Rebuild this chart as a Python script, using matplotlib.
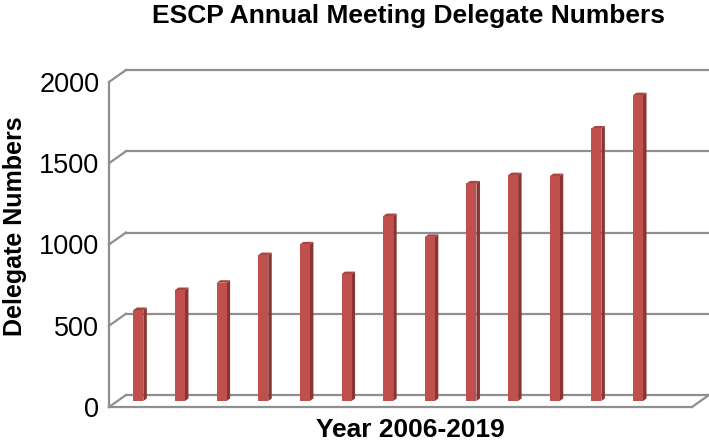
import numpy as np
import matplotlib
matplotlib.use("Agg")
import matplotlib.pyplot as plt

plt.rcParams['font.family'] = ['Liberation Sans', 'DejaVu Sans']

# data (one empty slot at the end)
years = list(range(2006, 2020))
delegates = [560, 683, 728, 898, 964, 781, 1138, 1010, 1339, 1390, 1384, 1677, 1882]
yticks = [0, 500, 1000, 1500, 2000]

grid_c = '#8f8f8f'
front_c = '#c0504d'
side_c = '#8a3533'
top_c = '#a94442'

W, H = 709, 446
fig = plt.figure(figsize=(W / 100, H / 100), dpi=100)
ax = fig.add_axes([109 / W, (H - 407) / H, 583 / W, 325 / H])
nslot = len(years)
ax.set_xlim(-0.5, nslot - 0.5)
ax.set_ylim(0, 2000)
for s in ax.spines.values():
    s.set_visible(False)
ax.set_xticks([])
ax.set_yticks(yticks)
ax.set_yticklabels([str(v) for v in yticks], fontsize=19.5)
ax.tick_params(axis='y', length=0, pad=7)

# depth of the "3d" box in data units (17px right, 12px up)
dx = 17 / (583 / nslot)
dy = 12 / (325 / 2000)
x0, x1 = -0.5, nslot - 0.5

# back wall gridlines + left wall diagonals
for v in yticks:
    ax.plot([x0 + dx, x1 + dx], [v + dy, v + dy], color=grid_c, lw=1.6,
            clip_on=False, zorder=1)
    ax.plot([x0, x0 + dx], [v, v + dy], color=grid_c, lw=1.6,
            clip_on=False, zorder=1)
# left axis and floor front
ax.plot([x0, x0], [0, 2000], color=grid_c, lw=1.6, clip_on=False, zorder=1)
ax.plot([x0, x1], [0, 0], color=grid_c, lw=1.6, clip_on=False, zorder=1)
ax.plot([x1, x1 + dx], [0, dy], color=grid_c, lw=1.6, clip_on=False, zorder=1)

# bars sit halfway into the box
bw = 0.24
sd_x = 3.5 / (583 / nslot)
sd_y = 2.5 / (325 / 2000)
xs = np.arange(len(delegates)) + dx / 2
base = dy / 2
for x, v in zip(xs, delegates):
    l, r = x - bw / 2, x + bw / 2
    t = base + v
    ax.fill([r, r + sd_x, r + sd_x, r], [base, base + sd_y, t + sd_y, t],
            color=side_c, lw=0, zorder=3, clip_on=False)
    ax.fill([l, r, r + sd_x, l + sd_x], [t, t, t + sd_y, t + sd_y],
            color=top_c, lw=0, zorder=3, clip_on=False)
ax.bar(xs, delegates, width=bw, bottom=base, color=front_c, zorder=4)

fig.text(409 / W, 1 - 23 / H, 'ESCP Annual Meeting Delegate Numbers',
         ha='center', va='baseline', fontsize=19, fontweight='bold')
fig.text(410 / W, 1 - 430 / H, 'Year 2006-2019', ha='center', va='center',
         fontsize=19, fontweight='bold')
fig.text(15 / W, 1 - 226 / H, 'Delegate Numbers', ha='center', va='center',
         rotation=90, fontsize=18, fontweight='bold')

fig.savefig('out.png', dpi=100)
